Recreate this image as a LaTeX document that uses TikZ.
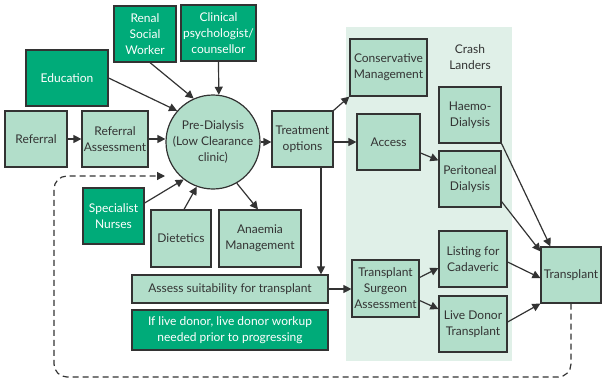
\documentclass[tikz,border=0pt]{standalone}
\usepackage{fontspec}
\setmainfont{Lato}
\usetikzlibrary{arrows.meta,calc}
\definecolor{lgreen}{HTML}{B2DECA}
\definecolor{dgreen}{HTML}{00AB79}
\definecolor{bgshade}{HTML}{E0F0E8}
\definecolor{edge}{HTML}{333333}
\definecolor{txt}{HTML}{333333}
\begin{document}
\begin{tikzpicture}[x=1pt,y=-1pt,
  base/.style={draw=edge,line width=1.2pt,align=center,inner sep=1pt,
    font=\fontsize{12}{16}\selectfont},
  lbox/.style={base,fill=lgreen,text=txt},
  dbox/.style={base,fill=dgreen,text=white},
  sz/.style n args={2}{minimum width=#1pt,minimum height=#2pt},
  arr/.style={draw=edge,line width=1.2pt,-{Triangle[length=8pt,width=8pt]}},
  loop/.style={draw=edge,line width=1.2pt,dash pattern=on 6pt off 4pt,rounded corners=13pt,-{Triangle[length=8pt,width=8pt]}}]
\useasboundingbox (0,0) rectangle (602,378);
\fill[bgshade] (346,27) rectangle (512,361);

\node[dbox,sz={62}{56}] (ren) at (145,34) {Renal\\Social\\Worker};
\node[dbox,sz={75}{56}] (clin) at (218.5,33) {Clinical\\psychologist/\\counsellor};
\node[dbox,sz={82}{56}] (edu) at (67,78) {Education};
\node[lbox,sz={62}{56}] (ref) at (36,139) {Referral};
\node[lbox,sz={66}{56}] (refa) at (115,139) {Referral\\Assessment};
\node[lbox,circle,minimum size=94pt,inner sep=0pt] (pre) at (213,142) {Pre-Dialysis\\(Low Clearance\\clinic)};
\node[lbox,sz={61}{56}] (treat) at (302.5,139) {Treatment\\options};
\node[lbox,sz={77}{57}] (cons) at (388.5,67.5) {Conservative\\Management};
\node[font=\fontsize{12}{16}\selectfont,text=txt,align=center] (crash) at (470,57) {Crash\\Landers};
\node[lbox,sz={62}{56}] (haemo) at (470,115) {Haemo-\\Dialysis};
\node[lbox,sz={63}{56}] (access) at (388.5,142) {Access};
\node[lbox,sz={62}{56}] (perit) at (470,179) {Peritoneal\\Dialysis};
\node[dbox,sz={61}{56}] (spec) at (113.5,216) {Specialist\\Nurses};
\node[lbox,sz={60}{57}] (diet) at (181,238.5) {Dietetics};
\node[lbox,sz={82}{57}] (anae) at (260,238.5) {Anaemia\\Management};
\node[lbox,sz={196}{28}] (assess) at (230,289) {Assess suitability for transplant};
\node[dbox,sz={196}{40}] (note) at (230,330) {If live donor, live donor workup\\needed prior to progressing};
\node[lbox,sz={67}{57}] (tsa) at (385.5,288.5) {Transplant\\Surgeon\\Assessment};
\node[lbox,sz={68}{56}] (list) at (473,259) {Listing for\\Cadaveric};
\node[lbox,sz={68}{56}] (ldt) at (473,324) {Live Donor\\Transplant};
\node[lbox,sz={60}{56}] (trans) at (571,275) {Transplant};

\coordinate (ts) at ([xshift=18.5pt]treat.south);
\coordinate (loopend) at (165,176);

\draw[arr] (edu.east) -- (pre.139);
\draw[arr] ([xshift=5pt]ren.south) -- (pre.114);
\draw[arr] (clin.south) -- (pre.83);
\draw[arr] (ref) -- (refa);
\draw[arr] (refa.east) -- (refa.east -| pre.west);
\draw[arr] ([yshift=13pt]spec.east) -- (pre.232);
\draw[arr] ([xshift=3pt]diet.north) -- (pre.250);
\draw[arr] (pre.300) -- ([xshift=-2pt]anae.north);
\draw[arr] (pre.east) -- (pre.east -| treat.west);
\draw[arr] (treat.north east) -- (cons.south west);
\draw[arr] (treat.east |- access.west) -- (access.west);
\draw[arr] (ts) -- (ts |- assess.north);
\draw[arr] ([yshift=-11pt]access.east) -- ([yshift=-10pt]perit.north west);
\draw[arr] (assess.east) -- (assess.east -| tsa.west);
\draw[arr] ([yshift=11pt]tsa.east) -- ([yshift=-9pt]list.west);
\draw[arr] ([yshift=-12pt]tsa.east) -- ([yshift=15pt]ldt.west);
\draw[arr] ([yshift=-3pt]list.east) -- ([yshift=-3pt]trans.west);
\draw[arr] ([yshift=2pt]ldt.east) -- (trans.south west);
\draw[arr] (haemo.south east) -- ([xshift=10pt]trans.north west);
\draw[arr] ([yshift=6pt]perit.south east) -- ([yshift=-5pt]trans.north west);
\draw[loop] (trans.south) -- (trans.south |- 0,377) -- (54,377) -- (54,176) -- (loopend);
\end{tikzpicture}
\end{document}
